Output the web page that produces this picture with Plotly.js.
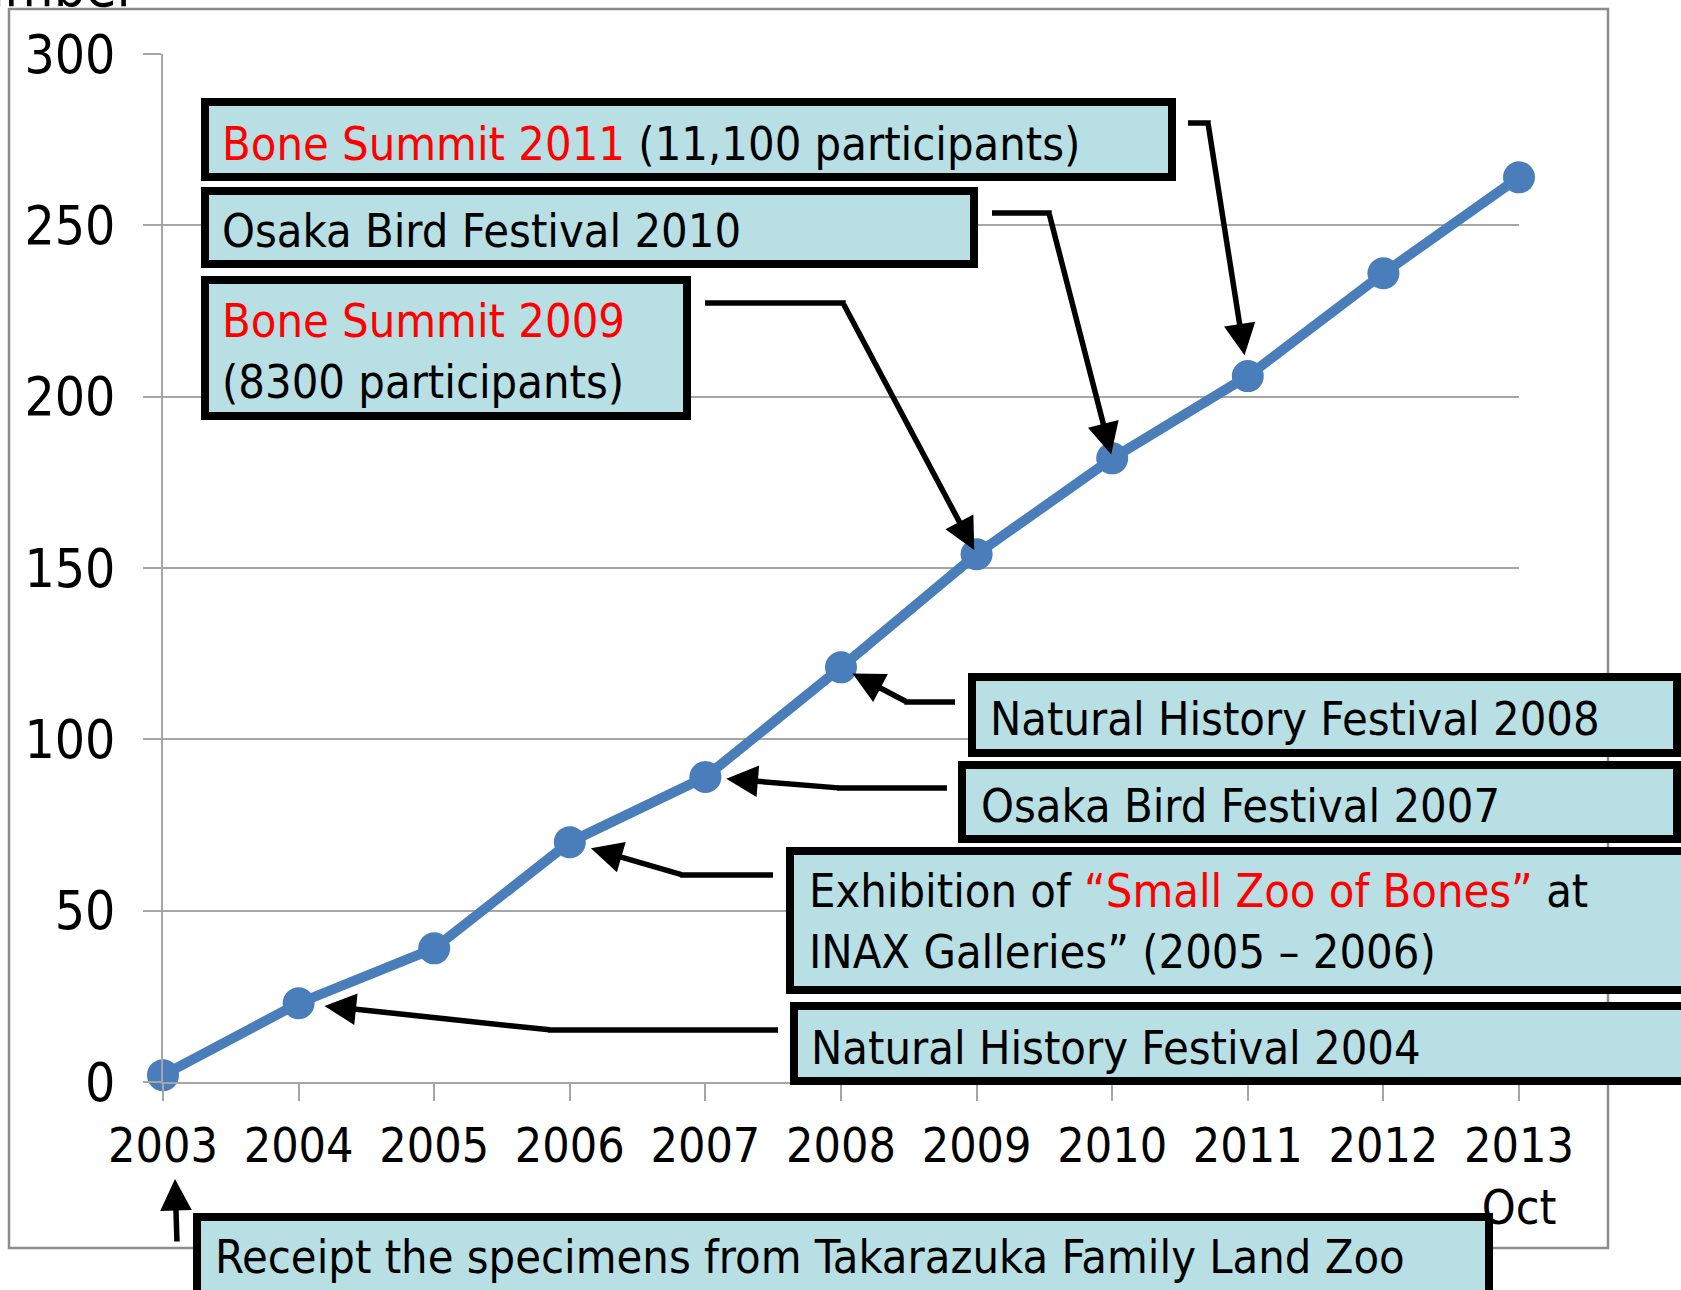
<!DOCTYPE html>
<html>
<head>
<meta charset="utf-8">
<script src="https://cdn.plot.ly/plotly-3.0.1.min.js"></script>
<style>
  html, body { margin: 0; padding: 0; background: #ffffff; }
  #chart { width: 1681px; height: 1290px; }
</style>
</head>
<body>
<div id="chart"></div>
<script>
// ---- data ----
const years = [2003, 2004, 2005, 2006, 2007, 2008, 2009, 2010, 2011, 2012, 2013];
const counts = [2, 23, 39, 70, 89, 121, 154, 182, 206, 236, 264];
const xTickLabels = ['2003', '2004', '2005', '2006', '2007', '2008', '2009', '2010', '2011', '2012', '2013<br>Oct'];
const yTickValues = [0, 50, 100, 150, 200, 250, 300];
const yTitle = 'Number';

const eventYears = [2011, 2010, 2009, 2008, 2007, 2006, 2004, 2003];
const eventLabels = [
  '<span style="color:#ff0000">Bone Summit 2011</span> (11,100 participants)',
  'Osaka Bird Festival 2010',
  '<span style="color:#ff0000">Bone Summit 2009</span><br>(8300 participants)',
  'Natural History Festival 2008',
  'Osaka Bird Festival 2007',
  'Exhibition of <span style="color:#ff0000">\u201cSmall Zoo of Bones\u201d</span> at<br>INAX Galleries\u201d (2005 \u2013 2006)',
  'Natural History Festival 2004',
  'Receipt the specimens from Takarazuka Family Land Zoo'
];

// ---- layout geometry (page pixels) ----
const W_PAGE = 1681, H_PAGE = 1290;
const M = { l: 163, r: 162, t: 54, b: 208 };
const PW = W_PAGE - M.l - M.r, PH = H_PAGE - M.t - M.b;
const FONT = 'DejaVu Sans Condensed, DejaVu Sans, sans-serif';
const px = p => (p - M.l) / PW;               // page x -> paper x
const py = p => (M.t + PH - p) / PH;          // page y -> paper y
const dx = p => years[0] + (p - M.l) / PW * (years[years.length - 1] - years[0]);
const dy = p => (M.t + PH - p) / PH * 300;

// boxes: outer edges in page px; text left & centre y
const boxes = [
  { r: [201, 98, 1176, 181],  tx: 220, ty: 144 },
  { r: [201, 187, 978, 268],  tx: 220, ty: 231 },
  { r: [201, 276, 691, 420],  tx: 220, ty: 351 },
  { r: [968, 673, 1681, 757], tx: 988, ty: 719 },
  { r: [958, 761, 1681, 843], tx: 979, ty: 806 },
  { r: [786, 847, 1760, 994], tx: 807, ty: 921 },
  { r: [790, 1002, 1760, 1085], tx: 809, ty: 1048 },
  { r: [193, 1213, 1493, 1340], tx: 213, ty: 1257 }
];
// connectors: start (box side) and elbow, page px; standoff px
const connectors = [
  { s: [1188, 123], e: [1208, 123], so: 21 },
  { s: [992, 213],  e: [1049, 213], so: 4 },
  { s: [705, 303],  e: [843, 303],  so: 5 },
  { s: [955, 702],  e: [907, 702],  so: 13 },
  { s: [947, 788],  e: [840, 788],  so: 21 },
  { s: [773, 875],  e: [683, 875],  so: 22 },
  { s: [778, 1030], e: [551, 1030], so: 26 }
];

const BW = 8, AW = 5.5, AS = 1.15;
const shapes = [];
// outer chart frame
shapes.push({ type: 'rect', xref: 'paper', yref: 'paper', layer: 'above',
  x0: px(9), x1: px(1608), y0: py(9), y1: py(1248),
  line: { color: '#8c8c8c', width: 2.5 }, fillcolor: 'rgba(0,0,0,0)' });
boxes.forEach(b => {
  shapes.push({ type: 'rect', xref: 'paper', yref: 'paper', layer: 'above',
    x0: px(b.r[0] + BW / 2), x1: px(b.r[2] - BW / 2),
    y0: py(b.r[3] - BW / 2), y1: py(b.r[1] + BW / 2),
    line: { color: '#000000', width: BW }, fillcolor: '#b8dfe3' });
});
connectors.forEach(c => {
  const dir = Math.sign(c.e[0] - c.s[0]);
  shapes.push({ type: 'line', xref: 'paper', yref: 'paper', layer: 'above',
    x0: px(c.s[0]), x1: px(c.e[0] + dir * AW / 2), y0: py(c.s[1]), y1: py(c.e[1]),
    line: { color: '#000000', width: AW } });
});

const annotations = [];
boxes.forEach((b, i) => {
  annotations.push({ xref: 'paper', yref: 'paper', x: px(b.tx), y: py(b.ty),
    xanchor: 'left', yanchor: 'middle', align: 'left', showarrow: false,
    text: eventLabels[i], font: { family: FONT, size: 46.6, color: '#000000' } });
});
connectors.forEach((c, i) => {
  const k = years.indexOf(eventYears[i]);
  annotations.push({ xref: 'x', yref: 'y', x: years[k], y: counts[k],
    axref: 'x', ayref: 'y', ax: dx(c.e[0]), ay: dy(c.e[1]),
    text: '', showarrow: true, arrowhead: 2, arrowsize: AS, arrowwidth: AW,
    arrowcolor: '#000000', standoff: c.so });
});
// arrow from the 2003 box up to the 2003 label
annotations.push({ xref: 'paper', yref: 'paper', x: px(175), y: py(1179),
  axref: 'pixel', ayref: 'pixel', ax: 2, ay: 64, text: '', showarrow: true,
  arrowhead: 2, arrowsize: AS, arrowwidth: AW, arrowcolor: '#000000', standoff: 0 });
// partially visible axis title at the top
annotations.push({ xref: 'paper', yref: 'paper', x: px(140), y: py(-14),
  xanchor: 'right', yanchor: 'middle', showarrow: false, text: yTitle,
  font: { family: FONT, size: 56, color: '#000000' } });

const trace = {
  type: 'scatter', mode: 'lines+markers', x: years, y: counts,
  line: { color: '#4a7ebb', width: 10 },
  marker: { color: '#4a7ebb', size: 32 },
  cliponaxis: false, hoverinfo: 'skip', showlegend: false
};

const layout = {
  width: W_PAGE, height: H_PAGE,
  margin: M, paper_bgcolor: '#ffffff', plot_bgcolor: '#ffffff',
  font: { family: FONT, color: '#000000' },
  showlegend: false,
  xaxis: {
    range: [years[0], years[years.length - 1]], tickmode: 'array',
    tickvals: years, ticktext: xTickLabels,
    showgrid: false, zeroline: false, showline: true, linecolor: '#a6a6a6', linewidth: 2,
    ticks: 'outside', ticklen: 17, tickwidth: 2, tickcolor: '#a6a6a6',
    tickfont: { family: FONT, size: 48, color: '#000000' }, ticklabelstandoff: 3,
    fixedrange: true
  },
  yaxis: {
    range: [0, 300], tickmode: 'array', tickvals: yTickValues,
    showgrid: true, gridcolor: '#a6a6a6', gridwidth: 2,
    zeroline: false, showline: true, linecolor: '#a6a6a6', linewidth: 2,
    ticks: 'outside', ticklen: 18, tickwidth: 2, tickcolor: '#a6a6a6',
    tickfont: { family: FONT, size: 53, color: '#000000' }, ticklabelstandoff: 17,
    fixedrange: true
  },
  shapes: shapes,
  annotations: annotations
};

Plotly.newPlot('chart', [trace], layout, { displayModeBar: false, staticPlot: true });
</script>
</body>
</html>
